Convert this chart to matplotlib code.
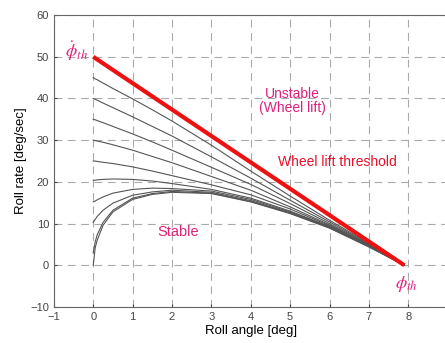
import matplotlib
matplotlib.use('Agg')
import matplotlib.pyplot as plt

plt.rcParams['font.family'] = ['Liberation Sans', 'DejaVu Sans']
plt.rcParams['mathtext.fontset'] = 'stix'

# roll angle sample points [deg]
roll_angle = [0, 0.05, 0.1, 0.25, 0.5, 1, 1.5, 2, 3, 4, 5, 6, 7, 7.9]

# roll rate trajectories [deg/sec]
traj_45 = [45.0, 44.7, 44.5, 43.7, 42.4, 39.9, 37.3, 34.6, 28.8, 22.6, 16.6, 10.8, 5.3, 0]
traj_40 = [40.0, 39.8, 39.6, 38.9, 37.8, 35.6, 33.3, 31.0, 26.0, 20.9, 15.6, 10.4, 5.1, 0]
traj_35 = [35.0, 34.9, 34.7, 34.2, 33.3, 31.5, 29.6, 27.6, 23.5, 19.4, 14.8, 10.0, 5.0, 0]
traj_30 = [30.0, 29.9, 29.8, 29.5, 28.9, 27.6, 26.1, 24.6, 21.3, 18.0, 14.0, 9.7, 4.9, 0]
traj_25 = [25.0, 25.0, 24.9, 24.7, 24.4, 23.6, 22.6, 21.5, 19.3, 16.9, 13.5, 9.5, 4.8, 0]
traj_20 = [20.4, 20.4, 20.5, 20.6, 20.7, 20.6, 20.2, 19.6, 18.2, 16.1, 13.0, 9.3, 4.7, 0]
traj_15 = [15.2, 15.4, 15.7, 16.4, 17.3, 18.2, 18.5, 18.4, 17.8, 15.8, 12.8, 9.2, 4.6, 0]
traj_10 = [10.3, 11.0, 11.7, 13.2, 14.9, 16.8, 17.6, 18.0, 17.5, 15.5, 12.6, 9.1, 4.5, 0]
traj_03 = [3.0, 5.6, 7.3, 10.3, 13.2, 16.1, 17.2, 17.7, 17.3, 15.3, 12.5, 9.0, 4.45, 0]
traj_00 = [0.0, 4.2, 6.0, 9.6, 12.8, 15.8, 17.0, 17.5, 17.2, 15.2, 12.4, 8.9, 4.4, 0]
trajectories = [traj_45, traj_40, traj_35, traj_30, traj_25,
                traj_20, traj_15, traj_10, traj_03, traj_00]

# wheel lift threshold line
thresh_angle = [0, 7.9]
thresh_rate = [50, 0]

fig = plt.figure(figsize=(4.45, 3.43), dpi=100)
ax = fig.add_axes([0.121, 0.105, 0.885, 0.851])

for tr in trajectories:
    ax.plot(roll_angle, tr, color='#555555', lw=0.8)
ax.plot(thresh_angle, thresh_rate, color='#ee1111', lw=3, solid_capstyle='butt')

ax.set_xlim(-1, 9)
ax.set_ylim(-10, 60)
ax.set_xticks(range(-1, 9))
ax.set_yticks(range(-10, 61, 10))
ax.grid(True, ls=(0, (7, 5)), color='#aaaaaa', lw=0.8)
ax.tick_params(direction='in', labelsize=8, colors='#444444', length=2)
for s in ax.spines.values():
    s.set_color('#666666')

ax.set_xlabel('Roll angle [deg]', fontsize=9.5, labelpad=2)
ax.set_ylabel('Roll rate [deg/sec]', fontsize=9.5, labelpad=2)

pink = '#e0207a'
ax.text(-0.12, 51.5, r'$\dot{\phi}_{th}$', color=pink, fontsize=13, ha='right', va='center')
ax.text(7.95, -4.5, r'$\phi_{th}$', color=pink, fontsize=13, ha='center', va='center')
ax.text(5.05, 39.3, 'Unstable\n(Wheel lift)', color=pink, fontsize=10, ha='center', va='center',
        linespacing=1.0)
ax.text(6.2, 24.7, 'Wheel lift threshold', color='#e8102a', fontsize=10, ha='center', va='center')
ax.text(2.15, 8.0, 'Stable', color=pink, fontsize=10.5, ha='center', va='center')

fig.savefig('out.png', dpi=100)
